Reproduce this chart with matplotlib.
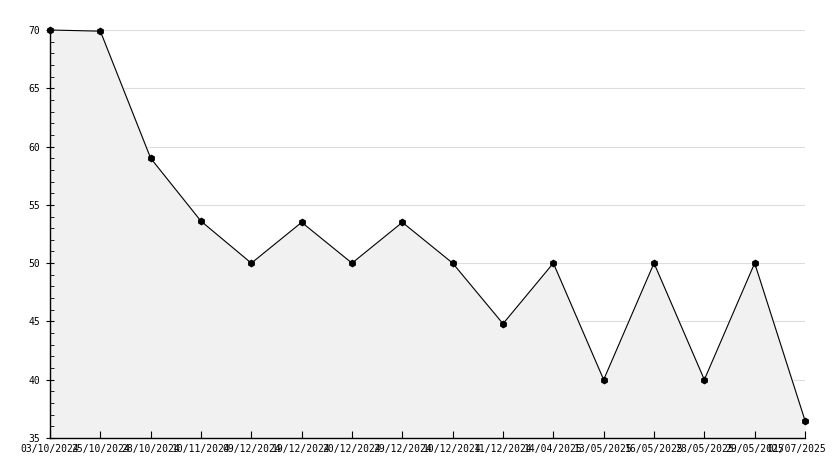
import matplotlib
matplotlib.use("Agg")
import matplotlib.pyplot as plt
from matplotlib.ticker import MultipleLocator
from matplotlib.transforms import ScaledTranslation

dates = ["03/10/2024", "25/10/2024", "28/10/2024", "10/11/2024", "09/12/2024",
         "19/12/2024", "20/12/2024", "29/12/2024", "10/12/2024", "11/12/2024",
         "14/04/2025", "13/05/2025", "16/05/2025", "28/05/2025", "29/05/2025",
         "01/07/2025"]
values = [70, 69.9, 59, 53.6, 50, 53.5, 50, 53.5, 50, 44.8, 50, 40, 50, 40, 50, 36.5]

plt.rcParams["font.family"] = ["DejaVu Sans Mono"]

fig = plt.figure(figsize=(8.34, 4.68), dpi=100)
ax = fig.add_axes([50/834, 30/468, 755/834, 408/468])
ax.set_axisbelow(False)

x = list(range(len(values)))
ax.set_xlim(0, len(values) - 1)
ax.set_ylim(35, 70)
ax.yaxis.set_major_locator(MultipleLocator(5))
ax.yaxis.set_minor_locator(MultipleLocator(1))

for yv in ax.get_yticks():
    if 35 < yv <= 70:
        ax.axhline(yv, color="#dddddd", linewidth=0.8, zorder=1)

ax.fill_between(x, values, 35, color="#f1f1f1", zorder=2)
ax.plot(x, values, color="black", linewidth=0.8, marker="h", markersize=4.5, zorder=3,
        clip_on=False)

ax.set_xticks(x)
ax.set_xticklabels(dates)

for s in ["top", "right"]:
    ax.spines[s].set_visible(False)
for s in ["left", "bottom"]:
    ax.spines[s].set_color("black")
    ax.spines[s].set_linewidth(1.0)
    ax.spines[s].set_zorder(4)

ax.tick_params(axis="x", direction="in", length=5, labelsize=7, pad=4)
ax.tick_params(axis="y", which="major", direction="inout", length=6, labelsize=7, pad=4)
ax.tick_params(axis="y", which="minor", direction="in", length=3)

last = ax.get_xticklabels()[-1]
last.set_transform(last.get_transform() + ScaledTranslation(-8/100, 0, fig.dpi_scale_trans))

fig.savefig("out.png", dpi=100)
